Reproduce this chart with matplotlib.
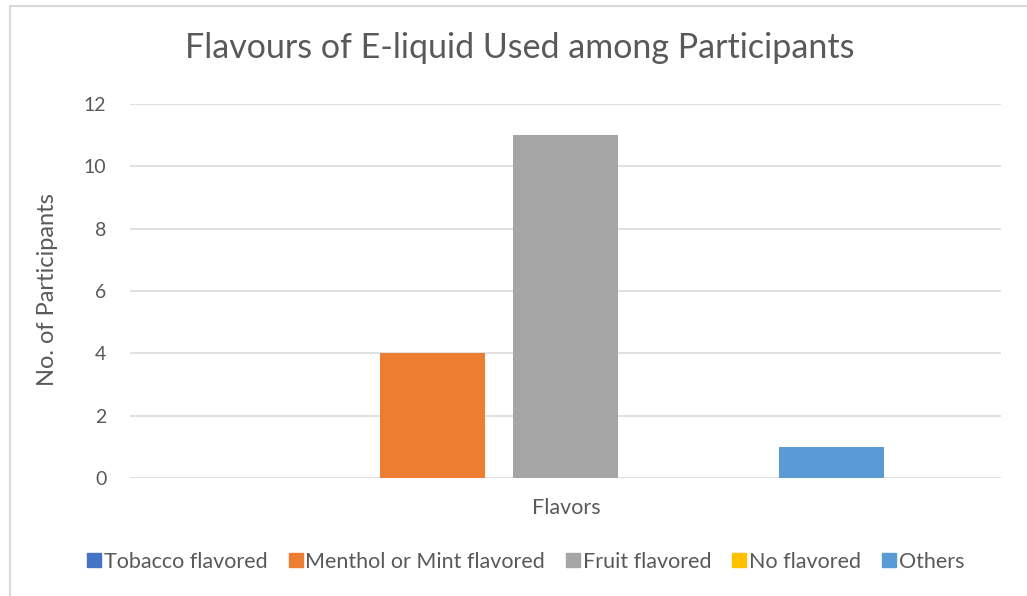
import matplotlib
matplotlib.use("Agg")
import matplotlib.pyplot as plt
from matplotlib.lines import Line2D

plt.rcParams['font.family'] = ['Lato', 'DejaVu Sans']

category = ["Flavors"]
series_names = ["Tobacco flavored", "Menthol or Mint flavored", "Fruit flavored",
                "No flavored", "Others"]
series_values = [0, 4, 11, 0, 1]
series_colors = ["#4472C4", "#ED7D31", "#A5A5A5", "#FFC000", "#5B9BD5"]
yticks = [0, 2, 4, 6, 8, 10, 12]

W, H = 1027, 596
fig = plt.figure(figsize=(W / 100, H / 100), dpi=100)
text_col = "#595959"

left, right, top, bottom = 130, 1001, 104, 478
ax = fig.add_axes([left / W, 1 - bottom / H, (right - left) / W, (bottom - top) / H])

bar_w = 105 / 871
step = 133 / 871
for i, (name, val, col) in enumerate(zip(series_names, series_values, series_colors)):
    ax.bar(0 + (i - 2) * step, val, width=bar_w, color=col, label=name, zorder=3)

ax.set_xlim(-0.5, 0.5)
ax.set_ylim(0, 12)
ax.set_yticks(yticks)
ax.set_xticks([])
ax.yaxis.grid(True, color="#D9D9D9", linewidth=1.1, zorder=0)
for s in ax.spines.values():
    s.set_visible(False)
ax.tick_params(axis="y", length=0, pad=17, labelsize=14, labelcolor=text_col)

fig.text(520 / W, 1 - 48 / H, "Flavours of E-liquid Used among Participants",
         ha="center", va="center", fontsize=24.5, color=text_col)
fig.text(48 / W, 1 - 290 / H, "No. of Participants", ha="center", va="center",
         rotation=90, fontsize=17, color=text_col)
fig.text(566 / W, 1 - 508 / H, "Flavors", ha="center", va="center",
         fontsize=15.5, color=text_col)

handles = [Line2D([], [], marker="s", linestyle="none", markersize=10,
                  markerfacecolor=c, markeredgecolor=c) for c in series_colors]
fig.legend(handles, series_names, loc="center", bbox_to_anchor=(525 / W, 1 - 562 / H),
           ncol=5, frameon=False, fontsize=15.5, labelcolor=text_col,
           handletextpad=0.05, columnspacing=0.9, handlelength=0.8)

# chart-area outline along top and left edges
fig.add_artist(Line2D([9.5 / W, 1.0], [1 - 5.5 / H, 1 - 5.5 / H], color="#D9D9D9",
                      linewidth=1.5, transform=fig.transFigure))
fig.add_artist(Line2D([9.5 / W, 9.5 / W], [0, 1 - 5.5 / H], color="#D9D9D9",
                      linewidth=1.5, transform=fig.transFigure))

fig.savefig("out.png", dpi=100, facecolor="white")
